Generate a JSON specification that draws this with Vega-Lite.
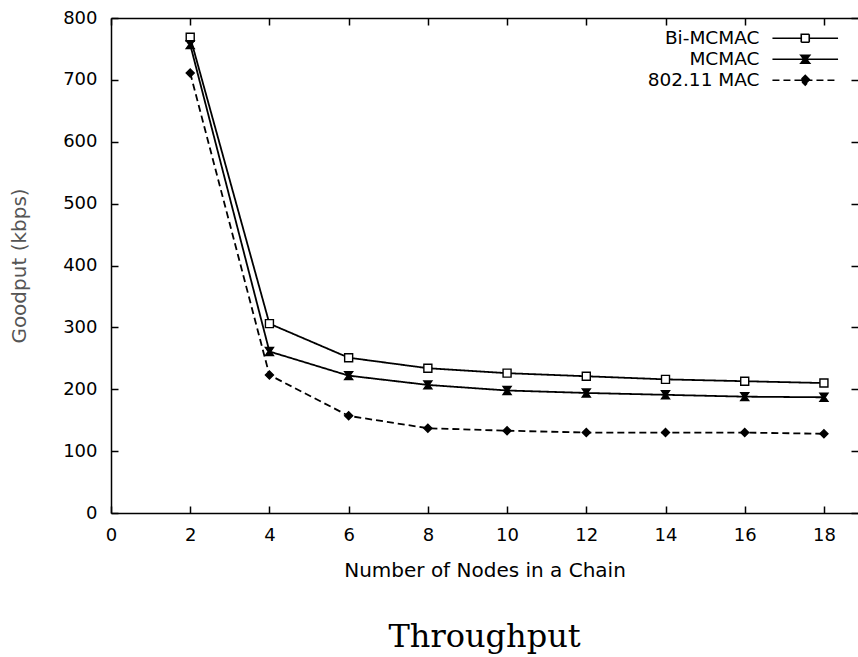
{
  "$schema": "https://vega.github.io/schema/vega-lite/v6.json",
  "width": 747,
  "height": 495,
  "autosize": {"type": "none"},
  "padding": {"left": 111, "top": 18, "right": 0, "bottom": 144},
  "background": "white",
  "config": {
    "view": {"stroke": null},
    "font": "DejaVu Sans",
    "axis": {"grid": false}
  },
  "title": {
    "text": "Throughput",
    "orient": "bottom",
    "anchor": "middle",
    "font": "DejaVu Serif",
    "fontSize": 32,
    "fontWeight": "normal",
    "color": "black",
    "offset": 42
  },
  "data": {
    "values": [
      {"series": "Bi-MCMAC", "nodes": 2, "goodput": 769},
      {"series": "Bi-MCMAC", "nodes": 4, "goodput": 306},
      {"series": "Bi-MCMAC", "nodes": 6, "goodput": 251},
      {"series": "Bi-MCMAC", "nodes": 8, "goodput": 234},
      {"series": "Bi-MCMAC", "nodes": 10, "goodput": 226},
      {"series": "Bi-MCMAC", "nodes": 12, "goodput": 221},
      {"series": "Bi-MCMAC", "nodes": 14, "goodput": 216},
      {"series": "Bi-MCMAC", "nodes": 16, "goodput": 213},
      {"series": "Bi-MCMAC", "nodes": 18, "goodput": 210},
      {"series": "MCMAC", "nodes": 2, "goodput": 757},
      {"series": "MCMAC", "nodes": 4, "goodput": 261},
      {"series": "MCMAC", "nodes": 6, "goodput": 222},
      {"series": "MCMAC", "nodes": 8, "goodput": 207},
      {"series": "MCMAC", "nodes": 10, "goodput": 198},
      {"series": "MCMAC", "nodes": 12, "goodput": 194},
      {"series": "MCMAC", "nodes": 14, "goodput": 191},
      {"series": "MCMAC", "nodes": 16, "goodput": 188},
      {"series": "MCMAC", "nodes": 18, "goodput": 187},
      {"series": "802.11 MAC", "nodes": 2, "goodput": 711},
      {"series": "802.11 MAC", "nodes": 4, "goodput": 223},
      {"series": "802.11 MAC", "nodes": 6, "goodput": 157},
      {"series": "802.11 MAC", "nodes": 8, "goodput": 137},
      {"series": "802.11 MAC", "nodes": 10, "goodput": 133},
      {"series": "802.11 MAC", "nodes": 12, "goodput": 130},
      {"series": "802.11 MAC", "nodes": 14, "goodput": 130},
      {"series": "802.11 MAC", "nodes": 16, "goodput": 130},
      {"series": "802.11 MAC", "nodes": 18, "goodput": 128}
    ]
  },
  "layer": [
    {
      "mark": {"type": "line", "color": "black", "strokeWidth": 1.8},
      "encoding": {
        "x": {
          "field": "nodes", "type": "quantitative",
          "scale": {"domain": [0, 18.86], "nice": false, "zero": false},
          "axis": {
            "orient": "bottom",
            "values": [0, 2, 4, 6, 8, 10, 12, 14, 16, 18],
            "tickSize": -7, "tickWidth": 1.5, "tickColor": "black",
            "domainColor": "black", "domainWidth": 1.5,
            "labelFont": "DejaVu Sans", "labelFontSize": 18, "labelColor": "black",
            "labelPadding": 20, "labelFlush": false, "labelOverlap": false,
            "title": "Number of Nodes in a Chain",
            "titleFont": "DejaVu Sans", "titleFontSize": 20, "titleFontWeight": "normal",
            "titleColor": "black", "titlePadding": 16
          }
        },
        "y": {
          "field": "goodput", "type": "quantitative",
          "scale": {"domain": [0, 800], "nice": false},
          "axis": {
            "orient": "left",
            "values": [0, 100, 200, 300, 400, 500, 600, 700, 800],
            "tickSize": -7, "tickWidth": 1.5, "tickColor": "black",
            "domainColor": "black", "domainWidth": 1.5,
            "labelFont": "DejaVu Sans", "labelFontSize": 18, "labelColor": "black",
            "labelPadding": 21, "labelFlush": false, "labelOverlap": false,
            "title": "Goodput (kbps)",
            "titleFont": "DejaVu Sans", "titleFontSize": 20, "titleFontWeight": "normal",
            "titleColor": "#555555", "titlePadding": 33
          }
        },
        "strokeDash": {
          "field": "series", "type": "nominal",
          "scale": {"domain": ["Bi-MCMAC", "MCMAC", "802.11 MAC"], "range": [[1, 0], [1, 0], [7, 4]]},
          "legend": {
            "title": null,
            "orient": "none",
            "legendX": 685,
            "legendY": 11,
            "padding": 0,
            "symbolSize": 256,
            "symbolStrokeWidth": 1.6,
            "symbolStrokeColor": "black",
            "labelFont": "DejaVu Sans",
            "labelFontSize": 18.5,
            "labelColor": "black",
            "labelAlign": "right",
            "labelOffset": -55,
            "labelLimit": 400,
            "rowPadding": 2,
            "encoding": {
              "symbols": {
                "shape": {"value": {"expr": "datum.value === 'Bi-MCMAC' ? 'M-4.1,0H-0.5M0.5,0H4.1M-0.5,-0.5H0.5V0.5H-0.5Z' : datum.value === 'MCMAC' ? 'M-4.1,0H4.1M-0.55,-0.5H0.55L0.15,0L0.55,0.5H-0.55L-0.15,0Z' : 'M-4.1,0H4.1M0,-0.6L0.6,0L0,0.6L-0.6,0Z'"}},
                "fill": {"value": {"expr": "datum.value === 'Bi-MCMAC' ? 'white' : 'black'"}},
                "stroke": {"value": "black"},
                "strokeWidth": {"value": 1.6},
                "opacity": {"value": 1}
              }
            }
          }
        }
      }
    },
    {
      "mark": {"type": "point", "filled": true, "stroke": "black", "strokeWidth": 1.4, "opacity": 1, "size": 64},
      "encoding": {
        "x": {
          "field": "nodes", "type": "quantitative",
          "axis": {
            "orient": "top",
            "values": [0, 2, 4, 6, 8, 10, 12, 14, 16, 18],
            "tickSize": -7, "tickWidth": 1.5, "tickColor": "black",
            "domainColor": "black", "domainWidth": 1.5,
            "labels": false, "title": null
          }
        },
        "y": {
          "field": "goodput", "type": "quantitative",
          "axis": {
            "orient": "right",
            "values": [0, 100, 200, 300, 400, 500, 600, 700, 800],
            "tickSize": -7, "tickWidth": 1.5, "tickColor": "black",
            "domain": false, "labels": false, "title": null
          }
        },
        "shape": {
          "field": "series", "type": "nominal",
          "scale": {"domain": ["MCMAC", "802.11 MAC", "Bi-MCMAC"], "range": ["M-1,-1H1L0.3,0L1,1H-1L-0.3,0Z", "diamond", "square"]},
          "legend": null
        },
        "fill": {
          "field": "series", "type": "nominal",
          "scale": {"domain": ["MCMAC", "802.11 MAC", "Bi-MCMAC"], "range": ["black", "black", "white"]},
          "legend": null
        }
      }
    }
  ],
  "resolve": {"axis": {"x": "independent", "y": "independent"}}
}
